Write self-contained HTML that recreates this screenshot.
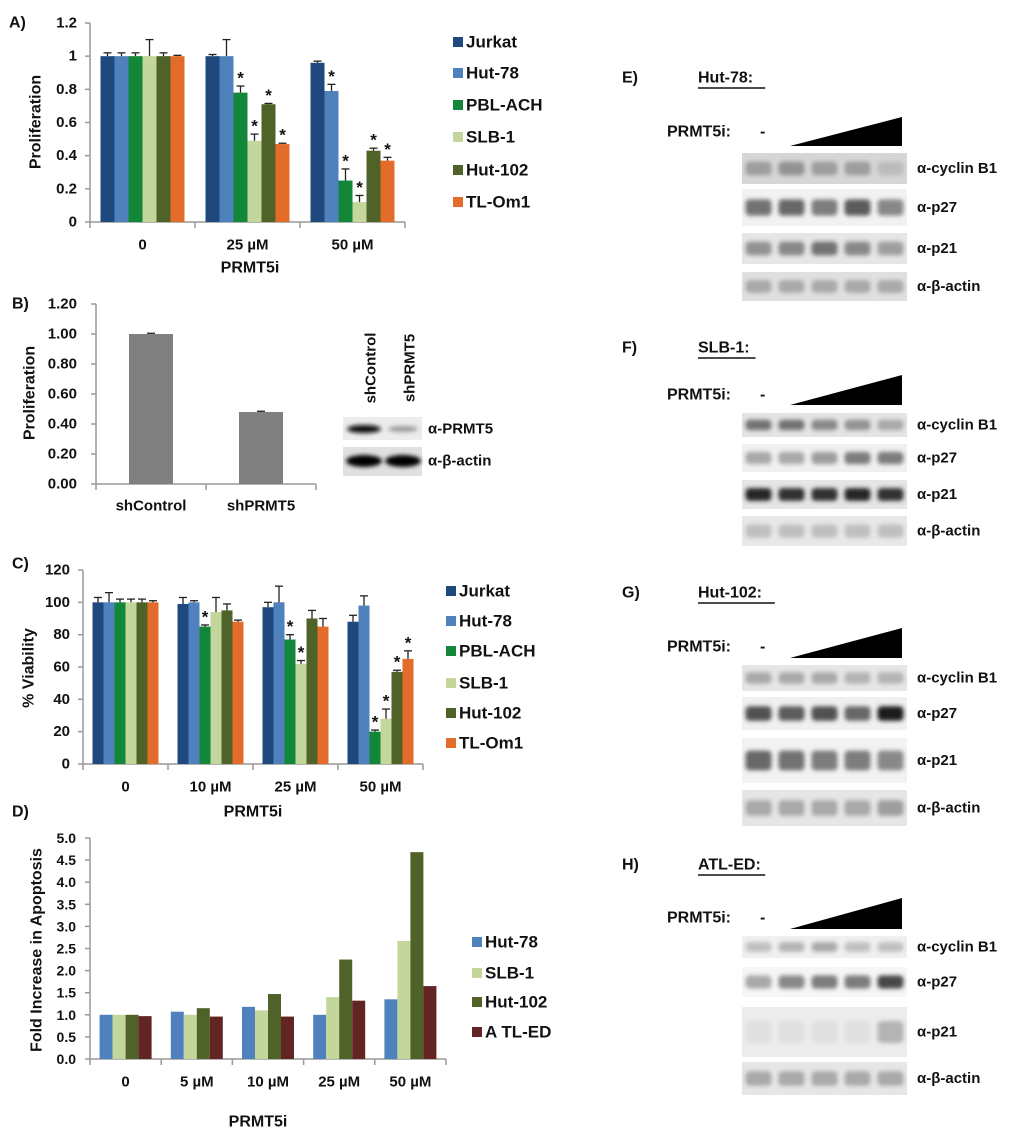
<!DOCTYPE html>
<html><head><meta charset="utf-8"><style>
html,body{margin:0;padding:0;background:#fff;}
svg{display:block;font-family:"Liberation Sans",Arial,sans-serif;font-weight:bold;}
</style></head><body>
<svg id="fig" width="1024" height="1139" viewBox="0 0 1024 1139" xmlns="http://www.w3.org/2000/svg">
<defs><filter id="blur" x="-30%" y="-80%" width="160%" height="260%"><feGaussianBlur stdDeviation="2.2"/></filter></defs>
</svg>
<script>
// ---------- Panel A data ----------
const aCategories = ["0","25 µM","50 µM"];
const aSeriesNames = ["Jurkat","Hut-78","PBL-ACH","SLB-1","Hut-102","TL-Om1"];
const aJurkat = [1.00,1.00,0.96];
const aHut78 = [1.00,1.00,0.79];
const aPBL = [1.00,0.78,0.25];
const aSLB = [1.00,0.49,0.12];
const aHut102 = [1.00,0.71,0.43];
const aTL = [1.00,0.47,0.37];
const aErrJurkat=[0.02,0.01,0.01], aErrHut78=[0.02,0.10,0.04], aErrPBL=[0.02,0.04,0.07], aErrSLB=[0.10,0.04,0.04], aErrHut102=[0.02,0.005,0.015], aErrTL=[0.005,0.005,0.02];
const aStars = [[0,0,0],[0,0,1],[0,1,1],[0,1,1],[0,1,1],[0,1,1]];
const aTicks = ["0","0.2","0.4","0.6","0.8","1","1.2"];
// ---------- Panel B data ----------
const bCategories = ["shControl","shPRMT5"];
const bValues = [1.00,0.48];
const bErr = [0.005,0.005];
const bTicks = ["0.00","0.20","0.40","0.60","0.80","1.00","1.20"];
// ---------- Panel C data ----------
const cCategories = ["0","10 µM","25 µM","50 µM"];
const cJurkat=[100,99,97,88], cHut78=[100,100,100,98], cPBL=[100,85,77,20], cSLB=[100,94,62,28], cHut102=[100,95,90,57], cTL=[100,88,85,65];
const cErrJurkat=[3,4,3,4], cErrHut78=[6,1,10,6], cErrPBL=[2,1,3,1], cErrSLB=[2,9,2,6], cErrHut102=[2,4,5,1], cErrTL=[1,1,5,5];
const cStars=[[0,0,0,0],[0,0,0,0],[0,1,1,1],[0,0,1,1],[0,0,0,1],[0,0,0,1]];
const cTicks=["0","20","40","60","80","100","120"];
// ---------- Panel D data ----------
const dCategories=["0","5 µM","10 µM","25 µM","50 µM"];
const dSeriesNames=["Hut-78","SLB-1","Hut-102","A TL-ED"];
const dHut78=[1.00,1.07,1.18,1.00,1.35];
const dSLB=[1.00,1.00,1.10,1.40,2.67];
const dHut102=[1.00,1.15,1.47,2.25,4.68];
const dATL=[0.97,0.96,0.96,1.32,1.65];
const dTicks=["0.0","0.5","1.0","1.5","2.0","2.5","3.0","3.5","4.0","4.5","5.0"];

const C6=["#1F497D","#4F81BD","#12873A","#C3D69B","#4F6228","#E46C2A"];
const C4=["#4F81BD","#C3D69B","#4F6228","#632523"];
const svg=document.getElementById('fig');
const NS="http://www.w3.org/2000/svg";
function el(tag,attrs,parent){const e=document.createElementNS(NS,tag);for(const k in attrs)e.setAttribute(k,attrs[k]);(parent||svg).appendChild(e);return e;}
function txt(x,y,s,size,anchor,parent,extra){const t=el('text',Object.assign({x:x,y:y,'font-size':size,'text-anchor':anchor||'start','dominant-baseline':'central',fill:'#111'},extra||{}),parent);t.textContent=s;return t;}

function barChart(o){
  const g=el('g',{});
  
  
  const yS=v=>o.y0-(v-o.vmin)/(o.vmax-o.vmin)*(o.y0-o.y1);
  const gw=(o.x1-o.x0)/o.cats.length;
  const ya=el('line',{x1:o.x0,y1:o.y1,x2:o.x0,y2:o.y0,stroke:'#999','stroke-width':1.5},g);
  
  
  const xa=el('line',{x1:o.x0,y1:o.y0,x2:o.x1,y2:o.y0,stroke:'#999','stroke-width':1.5},g);
  
  
  o.ticks.forEach((t,i)=>{
    const v=o.vmin+i*(o.vmax-o.vmin)/(o.ticks.length-1);
    const y=yS(v);
    el('line',{x1:o.x0-5,y1:y,x2:o.x0,y2:y,stroke:'#999','stroke-width':1.5},g);
    const tl=txt(o.tickX,y,t,o.tickSize||15,'end',g);
    
    
  });
  for(let i=0;i<=o.cats.length;i++){const x=o.x0+i*gw;el('line',{x1:x,y1:o.y0,x2:x,y2:o.y0+6,stroke:'#999','stroke-width':1.5},g);}
  o.cats.forEach((c,i)=>{
    const cl=txt(o.x0+gw*(i+0.5),o.labY,c,15,'middle',g);
    
    
  });
  const n=o.series.length;
  const bw=o.bw;
  o.series.forEach((s,si)=>{
    s.forEach((v,ci)=>{
      const x=o.x0+gw*ci+(gw-n*bw)/2+si*bw;
      const r=el('rect',{x:x,y:yS(v),width:bw,height:o.y0-yS(v),fill:o.colors[si]},g);
      
      
      let top=yS(v);
      if(o.errs){
        const e=o.errs[si][ci];const ye=yS(v+e);top=ye;
        el('line',{x1:x+bw/2,y1:yS(v),x2:x+bw/2,y2:ye,stroke:'#222','stroke-width':1.3},g);
        el('line',{x1:x+bw/2-4,y1:ye,x2:x+bw/2+4,y2:ye,stroke:'#222','stroke-width':1.3},g);
      }
      if(o.stars&&o.stars[si][ci]){
        const st=txt(x+bw/2,top-8,'*',17,'middle',g);
        
        
      }
    });
  });
  if(o.legend){
    o.legend.names.forEach((nm,i)=>{
      const y=o.legend.ys[i];
      const sq=el('rect',{x:o.legend.x,y:y-5,width:10,height:10,fill:o.colors[i]},g);
      
      
      const lt=txt(o.legend.x+13,y,nm,17,'start',g);
      
      
    });
  }
  return g;
}

barChart({name:'panel-a-chart',x0:90,x1:405,y0:222,y1:23,vmin:0,vmax:1.2,cats:aCategories,labY:245,bw:14,tickX:77,
  series:[aJurkat,aHut78,aPBL,aSLB,aHut102,aTL],errs:[aErrJurkat,aErrHut78,aErrPBL,aErrSLB,aErrHut102,aErrTL],stars:aStars,
  ticks:aTicks,colors:C6,legend:{names:aSeriesNames,x:453,ys:[42,73,105,137,170,202]}});
barChart({name:'panel-b-chart',x0:96,x1:316,y0:484,y1:304,vmin:0,vmax:1.2,cats:bCategories,labY:506,bw:44,tickX:77,
  series:[bValues],errs:[bErr],ticks:bTicks,colors:['#808080']});
barChart({name:'panel-c-chart',x0:83,x1:423,y0:764,y1:570,vmin:0,vmax:120,cats:cCategories,labY:787,bw:11,tickX:70,
  series:[cJurkat,cHut78,cPBL,cSLB,cHut102,cTL],errs:[cErrJurkat,cErrHut78,cErrPBL,cErrSLB,cErrHut102,cErrTL],stars:cStars,
  ticks:cTicks,colors:C6,legend:{names:aSeriesNames,x:446,ys:[591,621,651,683,713,743]}});
barChart({name:'panel-d-chart',x0:90,x1:446,y0:1059,y1:838,vmin:0,vmax:5,cats:dCategories,labY:1082,bw:13,tickX:76,
  series:[dHut78,dSLB,dHut102,dATL],ticks:dTicks,colors:C4,tickSize:14,legend:{names:dSeriesNames,x:472,ys:[942,973,1002,1032]}});

function label(x,y,s,size,name,anchor,rot){
  const t=txt(x,y,s,size,anchor||'start',svg,rot?{transform:'rotate(-90 '+x+' '+y+')'}:{});
  
  
  return t;
}
label(9,23,'A)',16,'panel-a-label');
label(36,122,'Proliferation',16,'panel-a-y-title','middle',true);
label(250,268,'PRMT5i',16,'panel-a-x-title','middle');
label(12,304,'B)',16,'panel-b-label');
label(30,393,'Proliferation',16,'panel-b-y-title','middle',true);
label(12,564,'C)',16,'panel-c-label');
label(29,668,'% Viability',16,'panel-c-y-title','middle',true);
label(253,812,'PRMT5i',16,'panel-c-x-title','middle');
label(12,812,'D)',16,'panel-d-label');
label(37,950,'Fold Increase in Apoptosis',16,'panel-d-y-title','middle',true);
label(258,1122,'PRMT5i',16,'panel-d-x-title','middle');

const bb=el('g',{});


el('rect',{x:343,y:417,width:79,height:23,fill:'#ececec'},bb);
el('ellipse',{cx:364,cy:429,rx:17,ry:4,fill:'#111',filter:'url(#blur)'},bb);
el('ellipse',{cx:403,cy:429,rx:15,ry:3,fill:'#999',filter:'url(#blur)'},bb);
el('rect',{x:343,y:447,width:79,height:29,fill:'#e0e0e0'},bb);
el('ellipse',{cx:364,cy:461,rx:18,ry:6,fill:'#000',filter:'url(#blur)'},bb);
el('ellipse',{cx:403,cy:461,rx:18,ry:6,fill:'#000',filter:'url(#blur)'},bb);
label(371,368,'shControl',15,'lane-label-shcontrol','middle',true);
label(410,368,'shPRMT5',15,'lane-label-shprmt5','middle',true);
label(428,429,'α-PRMT5',15,'blot-label-prmt5');
label(428,461,'α-β-actin',15,'blot-label-actin');

const blotPanels=[
 {id:'E',cell:'Hut-78:',hy:78,py:132,tri:[117,146],strips:[[153,184,'#d6d6d6',[.35,.4,.35,.35,.22]],[189,226,'#f2f2f2',[.55,.6,.5,.65,.45]],[233,264,'#e6e6e6',[.4,.45,.55,.45,.35]],[272,301,'#e0e0e0',[.3,.3,.3,.3,.3]]]},
 {id:'F',cell:'SLB-1:',hy:348,py:395,tri:[375,405],strips:[[413,437,'#e4e4e4',[.55,.55,.45,.4,.3]],[444,472,'#f0f0f0',[.3,.3,.35,.5,.5]],[480,509,'#e6e6e6',[.9,.85,.85,.9,.85]],[516,546,'#e8e8e8',[.2,.2,.2,.2,.2]]]},
 {id:'G',cell:'Hut-102:',hy:593,py:647,tri:[628,658],strips:[[665,691,'#e6e6e6',[.3,.3,.3,.25,.25]],[697,730,'#f0f0f0',[.7,.65,.7,.6,.95]],[738,783,'#f2f2f2',[.6,.55,.5,.5,.45]],[790,826,'#e6e6e6',[.3,.3,.3,.3,.35]]]},
 {id:'H',cell:'ATL-ED:',hy:865,py:918,tri:[898,929],strips:[[936,958,'#f0f0f0',[.2,.25,.3,.2,.2]],[967,997,'#f6f6f6',[.3,.45,.5,.5,.75]],[1007,1057,'#ececec',[.05,.05,.05,.05,.25]],[1062,1095,'#e6e6e6',[.3,.3,.3,.3,.3]]]}
];
const antibodies=['α-cyclin B1','α-p27','α-p21','α-β-actin'];
blotPanels.forEach(p=>{
  const g=el('g',{});
  
  
  label(622,p.hy,p.id+')',16,'panel-'+p.id.toLowerCase()+'-label');
  label(698,p.hy,p.cell,16,'cell-line-title');
  const w=p.cell.length*9.6;
  el('line',{x1:698,y1:p.hy+10,x2:698+w,y2:p.hy+10,stroke:'#111','stroke-width':1.5},g);
  label(667,p.py,'PRMT5i:',16,'prmt5i-label');
  label(760,p.py,'-',16,'untreated-lane-label');
  const tr=el('polygon',{points:'790,'+p.tri[1]+' 902,'+p.tri[1]+' 902,'+p.tri[0],fill:'#000'},g);
  
  
  p.strips.forEach((s,si)=>{
    el('rect',{x:742,y:s[0],width:165,height:s[1]-s[0],fill:s[2]},g);
    const cy=(s[0]+s[1])/2, h=(s[1]-s[0]);
    s[3].forEach((d,li)=>{
      const v=Math.round(235-d*220);
      el('rect',{x:758.5+33*li-13,y:cy-Math.max(3,h*0.22),width:26,height:2*Math.max(3,h*0.22),rx:4,fill:'rgb('+v+','+v+','+v+')',filter:'url(#blur)'},g);
    });
    label(917,cy,antibodies[si],15,'antibody-label');
  });
});
</script>
</body></html>
